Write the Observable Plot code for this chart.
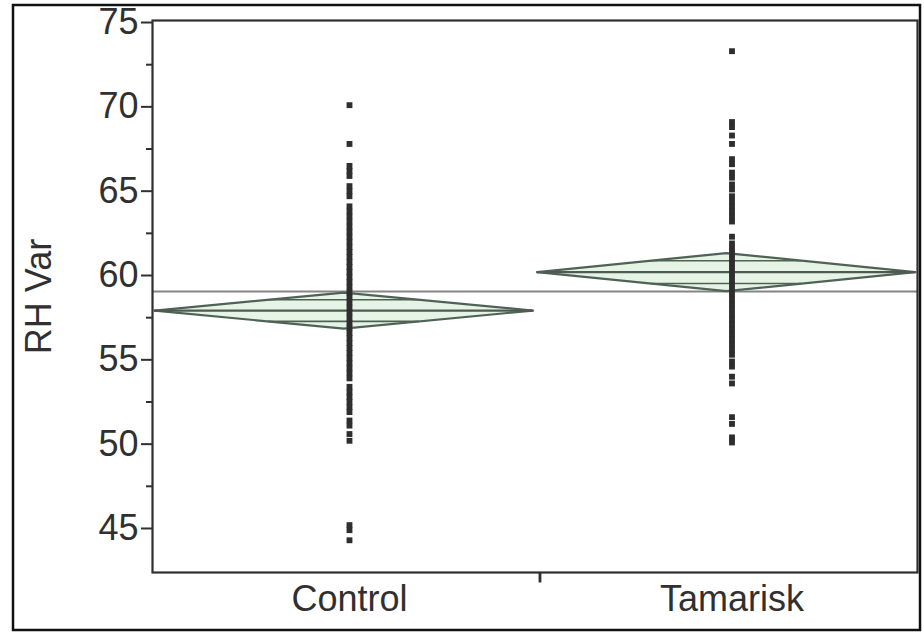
<!DOCTYPE html>
<html>
<head>
<meta charset="utf-8">
<script src="https://cdn.jsdelivr.net/npm/d3@7"></script>
<script src="https://cdn.jsdelivr.net/npm/@observablehq/plot@0.6"></script>
<style>
  html, body { margin: 0; padding: 0; background: #fff; }
  #chart { width: 924px; height: 633px; }
</style>
</head>
<body>
<div id="chart"></div>
<script>
// ---- data ----
const groups = ["Control", "Tamarisk"];
const groupMeans = [57.92, 60.2];
const ciHalf = [1.07, 1.13];
const grandMean = 59.05;

const controlValues = [70.1, 67.8, 66.5, 66.2, 65.9, 65.3, 65.0, 64.7, 64.1, 63.8, 63.5, 63.2,
  62.9, 62.6, 62.3, 62.0, 61.7, 61.4, 61.1, 60.8, 60.5, 60.2, 59.9, 59.6, 59.3, 59.0, 58.7,
  58.4, 58.1, 57.8, 57.5, 57.2, 56.9, 56.6, 56.3, 56.0, 55.7, 55.4, 55.1, 54.8, 54.5, 54.2,
  53.9, 53.4, 53.1, 52.8, 52.5, 52.2, 51.9, 51.4, 51.1, 50.6, 50.2, 45.2, 44.9, 44.3];

const tamariskValues = [73.3, 69.1, 68.8, 68.3, 67.8, 66.9, 66.6, 66.1, 65.8, 65.4, 65.1, 64.7,
  64.4, 64.1, 63.8, 63.5, 63.2, 62.3, 61.9, 61.6, 61.3, 61.0, 60.7, 60.4, 60.1, 59.8, 59.5,
  59.2, 58.9, 58.6, 58.3, 58.0, 57.7, 57.4, 57.1, 56.8, 56.5, 56.2, 55.9, 55.6, 55.3, 54.9,
  54.6, 54.0, 53.6, 51.6, 51.2, 50.4, 50.1];

const yTicks = [45, 50, 55, 60, 65, 70, 75];
const yMinorTicks = [47.5, 52.5, 57.5, 62.5, 67.5, 72.5];
const yLabel = "RH Var";

// ---- derived tables ----
const yMin = 42.39, yMax = 75.12;
const values = [controlValues, tamariskValues];
const pad = 0.006;
const ptShift = 0.015;
const points = groups.flatMap((g, i) => values[i].map(v => ({g, x: i + 0.5 + ptShift, y: v})));

const diamonds = groups.flatMap((g, i) => {
  const m = groupMeans[i], c = ciHalf[i];
  return [
    {g, x: i + pad, lo: m, hi: m},
    {g, x: i + 0.5, lo: m - c, hi: m + c},
    {g, x: i + 1 - pad, lo: m, hi: m}
  ];
});
const overlapK = 0.6;
const overlaps = groups.flatMap((g, i) => {
  const m = groupMeans[i], c = ciHalf[i], w = 1 - 2 * pad;
  const half = (w / 2) * (1 - overlapK);
  return [m - overlapK * c, m + overlapK * c].map((y, k) => ({g: g + k, x1: i + 0.5 - half, x2: i + 0.5 + half, y}));
});
const meanSegs = groups.map((g, i) => ({g, x1: i + pad, x2: i + 1 - pad, y: groupMeans[i]}));
const labelRows = groups.map((g, i) => ({g, x: i + 0.5 + ptShift}));

const font = "'Liberation Sans', Arial, Helvetica, sans-serif";
const ink = "#303030";
const dStroke = "#4e6356";

const chart = Plot.plot({
  width: 924,
  height: 633,
  marginLeft: 152,
  marginRight: 7,
  marginTop: 20,
  marginBottom: 61,
  style: {fontFamily: font, fontSize: "36px", color: ink, background: "#fff"},
  x: {domain: [0, 2], axis: null},
  y: {domain: [yMin, yMax]},
  marks: [
    Plot.areaY(diamonds, {x: "x", y1: "lo", y2: "hi", z: "g", fill: "#e6f4e6", curve: "linear"}),
    Plot.ruleY([grandMean], {stroke: "#858585", strokeWidth: 2}),
    Plot.line(diamonds, {x: "x", y: "hi", z: "g", stroke: dStroke, strokeWidth: 2.2}),
    Plot.line(diamonds, {x: "x", y: "lo", z: "g", stroke: dStroke, strokeWidth: 2.2}),
    Plot.ruleY(overlaps, {x1: "x1", x2: "x2", y: "y", stroke: dStroke, strokeWidth: 1.6}),
    Plot.ruleY(meanSegs, {x1: "x1", x2: "x2", y: "y", stroke: "#4f5a53", strokeWidth: 2.2}),
    Plot.dot(points, {x: "x", y: "y", symbol: "square", r: 3.3, fill: "#2e2e2e", stroke: "none"}),
    Plot.axisY({ticks: yTicks, tickSize: 11, tickPadding: 3, strokeWidth: 2, fontSize: 36,
      label: yLabel, labelAnchor: "center", labelArrow: "none", labelOffset: 127}),
    Plot.axisY({ticks: yMinorTicks, tickSize: 6, strokeWidth: 2, text: null, label: null}),
    Plot.ruleX([1.013], {y1: yMin, y2: yMin - 0.62, stroke: ink, strokeWidth: 2.8}),
    Plot.text(labelRows, {x: "x", text: "g", frameAnchor: "bottom", dy: 27, fontSize: 36, fill: ink, lineAnchor: "middle"}),
    Plot.frame({stroke: ink, strokeWidth: 2.2})
  ]
});
document.getElementById("chart").appendChild(chart);

// outer border of the figure
d3.select(chart).append("rect")
  .attr("x", 13).attr("y", 5).attr("width", 907).attr("height", 625)
  .attr("fill", "none").attr("stroke", "#111").attr("stroke-width", 2.5);
</script>
</body>
</html>
